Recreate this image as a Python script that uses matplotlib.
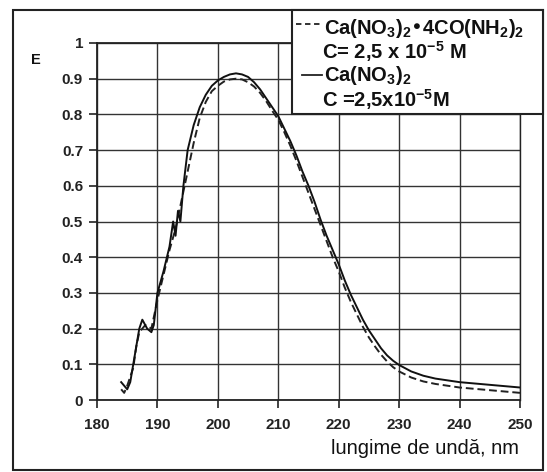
import matplotlib
matplotlib.use("Agg")
import matplotlib.pyplot as plt
from matplotlib.patches import Rectangle
from matplotlib.lines import Line2D

plt.rcParams['font.family'] = ['Liberation Sans', 'DejaVu Sans']
plt.rcParams['mathtext.default'] = 'regular'

# Ca(NO3)2 (solid)
x_solid = [184, 185, 185.5, 186, 187, 187.5, 188.3, 189, 189.4, 190, 191, 192, 192.6, 193, 193.4, 193.8,
           194.3, 195, 196, 197, 198, 199, 200, 201, 202, 203, 204, 205, 206, 207, 208, 209, 210,
           211, 212, 213, 214, 215, 216, 217, 218, 219, 220, 221, 222, 223, 224, 225, 226, 227,
           228, 229, 230, 232, 234, 236, 238, 240, 242, 244, 246, 248, 250]
e_solid = [0.05, 0.03, 0.05, 0.10, 0.20, 0.225, 0.20, 0.19, 0.21, 0.30, 0.36, 0.43, 0.50, 0.46, 0.53, 0.50,
           0.60, 0.70, 0.77, 0.82, 0.855, 0.88, 0.895, 0.905, 0.912, 0.915, 0.912, 0.905, 0.89, 0.87, 0.845, 0.82, 0.795,
           0.76, 0.725, 0.685, 0.64, 0.60, 0.555, 0.505, 0.46, 0.42, 0.38, 0.335, 0.295, 0.26, 0.225, 0.195, 0.17, 0.145,
           0.125, 0.11, 0.098, 0.08, 0.068, 0.06, 0.055, 0.05, 0.047, 0.044, 0.041, 0.038, 0.035]

# Ca(NO3)2*4CO(NH2)2 (dashed)
x_dash = [184, 184.5, 185, 186, 186.5, 187, 188, 189, 190, 191, 192, 193, 194, 195, 196, 197, 198, 199,
          200, 201, 202, 203, 204, 205, 206, 207, 208, 209, 210, 211, 212, 213, 214, 215, 216, 217, 218,
          219, 220, 221, 222, 223, 224, 225, 226, 227, 228, 229, 230, 232, 234, 236, 238, 240, 242, 244,
          246, 248, 250]
e_dash = [0.03, 0.02, 0.04, 0.09, 0.15, 0.19, 0.21, 0.20, 0.28, 0.35, 0.42, 0.48, 0.56, 0.64, 0.72, 0.79, 0.835, 0.865,
          0.88, 0.892, 0.898, 0.90, 0.898, 0.89, 0.878, 0.86, 0.837, 0.81, 0.785, 0.75, 0.712, 0.67, 0.625, 0.58, 0.535, 0.49, 0.445,
          0.40, 0.36, 0.315, 0.275, 0.24, 0.205, 0.175, 0.15, 0.127, 0.108, 0.092, 0.08, 0.063, 0.052, 0.045, 0.04, 0.035, 0.032, 0.029,
          0.026, 0.023, 0.02]

x_ticks = [180, 190, 200, 210, 220, 230, 240, 250]
y_ticks = [0, 0.1, 0.2, 0.3, 0.4, 0.5, 0.6, 0.7, 0.8, 0.9, 1]
y_tick_labels = ["0", "0.1", "0.2", "0.3", "0.4", "0.5", "0.6", "0.7", "0.8", "0.9", "1"]

W, H = 547, 472
fig = plt.figure(figsize=(W / 100, H / 100), dpi=100)

def fx(px):
    return px / W

def fy(py):
    return 1 - py / H

ax = fig.add_axes([fx(97), fy(400), fx(520) - fx(97), fy(43) - fy(400)])
ax.plot(x_dash, e_dash, color='#222222', lw=1.4, ls=(0, (4, 2)))
ax.plot(x_solid, e_solid, color='#111111', lw=1.4)
ax.set_xlim(180, 250)
ax.set_ylim(0, 1)
ax.set_xticks(x_ticks)
ax.set_yticks(y_ticks)
ax.set_yticklabels(y_tick_labels)
ax.grid(True, color='#333333', lw=1.0)
ax.tick_params(axis='both', direction='out', length=6, width=1.2, labelsize=11, color='#222222')
ax.tick_params(axis='x', pad=7)
ax.tick_params(axis='y', pad=4)
for lab in ax.get_xticklabels() + ax.get_yticklabels():
    lab.set_fontweight('bold')
    lab.set_color('#222222')
for s in ax.spines.values():
    s.set_linewidth(1.3)
    s.set_color('#222222')
ax.spines['right'].set_linewidth(1.0)

# outer frame
fig.patches.append(Rectangle((fx(13), fy(470)), fx(543) - fx(13), fy(10) - fy(470),
                             transform=fig.transFigure, fill=False, lw=1.5, ec='#222222'))

# legend box
fig.patches.append(Rectangle((fx(292), fy(114)), fx(543) - fx(292), fy(10) - fy(114),
                             transform=fig.transFigure, fill=True, fc='white', lw=1.5, ec='#222222', zorder=5))
fig.lines.append(Line2D([fx(296), fx(323)], [fy(24), fy(24)], transform=fig.transFigure,
                        color='#222222', lw=1.3, ls=(0, (3, 2)), zorder=6))
fig.lines.append(Line2D([fx(302), fx(322)], [fy(75), fy(75)], transform=fig.transFigure,
                        color='#222222', lw=1.3, zorder=6))
lkw = dict(fontsize=14.5, fontweight='bold', color='#111111', va='baseline', ha='left', zorder=7)
fig.text(fx(324), fy(34), r"Ca(NO$_3$)$_2$•4CO(NH$_2$)$_2$", **lkw)
fig.text(fx(322), fy(59), r"C= 2,5 x 10$^{-5}$ M", **lkw)
fig.text(fx(324), fy(81), r"Ca(NO$_3$)$_2$", **lkw)
fig.text(fx(322), fy(107), r"C =2,5x10$^{-5}$M", **lkw)

fig.text(fx(36), fy(60), "E", fontsize=10.5, fontweight='bold', color='#111111', ha='center', va='center')
fig.text(fx(425), fy(448), "lungime de undă, nm", fontsize=14.5, color='#111111', ha='center', va='center')

fig.savefig("out.png", dpi=100)
